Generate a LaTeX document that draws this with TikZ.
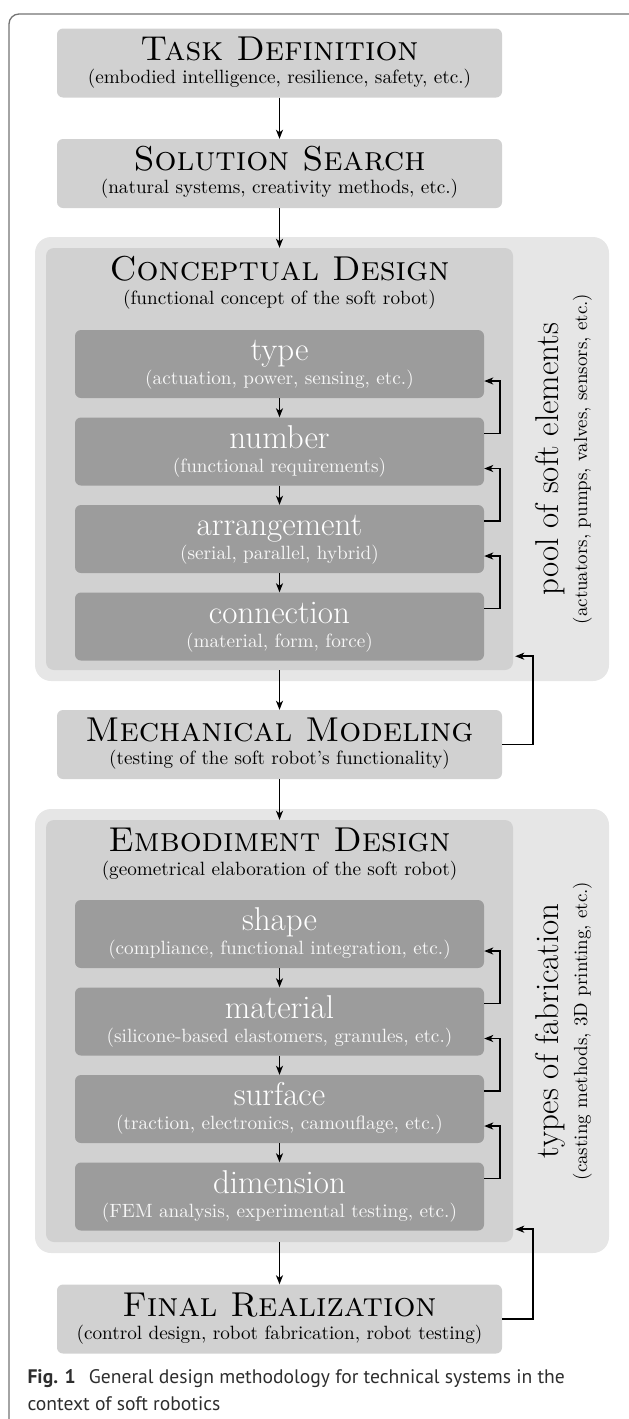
\documentclass[tikz,border=0pt]{standalone}
\usepackage{fontspec}
\setmainfont{lmroman10-regular}[Extension=.otf,SmallCapsFont=lmromancaps10-regular,
    BoldFont=lmroman10-bold,ItalicFont=lmroman10-italic]
\newfontfamily\thinfont{lmroman17-regular}[Extension=.otf]
\newfontfamily\capfont{PT Sans}
\usetikzlibrary{arrows.meta,positioning}
\definecolor{poolgray}{HTML}{E6E6E6}
\definecolor{boxgray}{HTML}{D1D1D1}
\definecolor{elemgray}{HTML}{9C9C9C}

\begin{document}
\begin{tikzpicture}[x=1pt,y=-1pt,>={Stealth[length=9pt,width=7pt,inset=2.5pt]},
  phase/.style={fill=boxgray,rounded corners=6pt,minimum width=445pt,minimum height=69pt,inner sep=0pt},
  elem/.style={fill=elemgray,rounded corners=6pt,minimum width=409pt,minimum height=68pt,inner sep=0pt},
  pool/.style={fill=poolgray,rounded corners=16pt,minimum width=574pt,minimum height=444pt,inner sep=0pt},
  design/.style={fill=boxgray,rounded corners=8pt,minimum width=467pt,minimum height=422pt,inner sep=0pt},
  ttl/.style={anchor=base,font=\fontsize{34.5}{38}\selectfont\scshape},
  sub/.style={anchor=base,font=\fontsize{19.2}{22}\selectfont},
  etl/.style={anchor=base,font=\thinfont\fontsize{33}{36}\selectfont,text=white},
  esub/.style={anchor=base,font=\fontsize{19.2}{22}\selectfont,text=black!3},
  side/.style={anchor=base,rotate=90,font=\thinfont\fontsize{33}{36}\selectfont},
  sidesub/.style={anchor=base,rotate=90,font=\fontsize{19}{22}\selectfont},
  flow/.style={->,line width=1.6pt}]
\clip (0,0) rectangle (629,1419);
\draw[black!55,line width=1.3pt,rounded corners=10pt] (9,14) rectangle (640,1430);

% main phases
\node[phase] (task) at (279.5,63) {};
\node[ttl] (task-t) at ([yshift=-32pt]task.north) {Task Definition};
\node[sub] (task-s) at ([yshift=-55pt]task.north) {(embodied intelligence, resilience, safety, etc.)};

\node[phase] (search) at (279.5,173.5) {};
\node[ttl] (search-t) at ([yshift=-32pt]search.north) {Solution Search};
\node[sub] (search-s) at ([yshift=-55pt]search.north) {(natural systems, creativity methods, etc.)};

% conceptual design
\node[pool] (cpool) at (322,459) {};
\node[design] (cdesign) at (279.5,459) {};
\node[ttl] (cdesign-t) at ([yshift=-33pt]cdesign.north) {Conceptual Design};
\node[sub] (cdesign-s) at ([yshift=-57pt]cdesign.north) {(functional concept of the soft robot)};
\node[side] (cpool-t) at (558,459) {pool of soft elements};
\node[sidesub] (cpool-s) at (587,459) {(actuators, pumps, valves, sensors, etc.)};
\foreach \el/\desc [count=\i from 0] in {type/{(actuation, power, sensing, etc.)},
    number/{(functional requirements)},arrangement/{(serial, parallel, hybrid)},
    connection/{(material, form, force)}}
{
    \node[elem] (\el) at (279.5,{364+87.5*\i}) {};
    \node[etl] (\el-t) at ([yshift=-31pt]\el.north) {\el};
    \node[esub] (\el-s) at ([yshift=-55pt]\el.north) {\desc};
}

\node[phase] (model) at (279.5,744.5) {};
\node[ttl] (model-t) at ([yshift=-32pt]model.north) {Mechanical Modeling};
\node[sub] (model-s) at ([yshift=-55pt]model.north) {(testing of the soft robot's functionality)};

% embodiment design
\node[pool] (epool) at (322,1031) {};
\node[design] (edesign) at (279.5,1031) {};
\node[ttl] (edesign-t) at ([yshift=-32pt]edesign.north) {Embodiment Design};
\node[sub] (edesign-s) at ([yshift=-56pt]edesign.north) {(geometrical elaboration of the soft robot)};
\node[side] (epool-t) at (558,1031) {types of fabrication};
\node[sidesub] (epool-s) at (587,1031) {(casting methods, 3D printing, etc.)};
\foreach \el/\desc [count=\i from 0] in {shape/{(compliance, functional integration, etc.)},
    material/{(silicone-based elastomers, granules, etc.)},
    surface/{(traction, electronics, camouflage, etc.)},
    dimension/{(FEM analysis, experimental testing, etc.)}}
{
    \node[elem] (\el) at (279.5,{934+87.5*\i}) {};
    \node[etl] (\el-t) at ([yshift=-31pt]\el.north) {\el};
    \node[esub] (\el-s) at ([yshift=-55pt]\el.north) {\desc};
}

\node[phase] (final) at (279.5,1319) {};
\node[ttl] (final-t) at ([yshift=-32pt]final.north) {Final Realization};
\node[sub] (final-s) at ([yshift=-55pt]final.north) {(control design, robot fabrication, robot testing)};

% arrows
\draw[flow] (task) -- (search);
\draw[flow] (search) -- (cdesign);
\draw[flow] (cdesign) -- (model);
\draw[flow] (model) -- (edesign);
\draw[flow] (edesign) -- (final);
\foreach \a/\b in {type/number,number/arrangement,arrangement/connection,
    shape/material,material/surface,surface/dimension}
{
    \draw[flow] (\a) -- (\b);
    \draw[flow] ([yshift=18pt]\b.east) -- ++(16,0) |- ([yshift=-17pt]\a.east);
}
\draw[flow] (model.east) -- ++(31,0) |- ([xshift=2pt,yshift=14pt]cdesign.south east);
\draw[flow] (final.east) -- ++(31,0) |- ([xshift=2pt,yshift=13pt]edesign.south east);

% caption
\node[anchor=base west,font=\capfont\fontsize{19.6}{26}\selectfont,text=black!82] (cap1) at (24,1383)
    {\textbf{Fig. 1}\hspace{0.4em} General design methodology for technical systems in the};
\node[anchor=base west,font=\capfont\fontsize{19.6}{26}\selectfont,text=black!82] (cap2) at (24,1410)
    {context of soft robotics};
\end{tikzpicture}
\end{document}
